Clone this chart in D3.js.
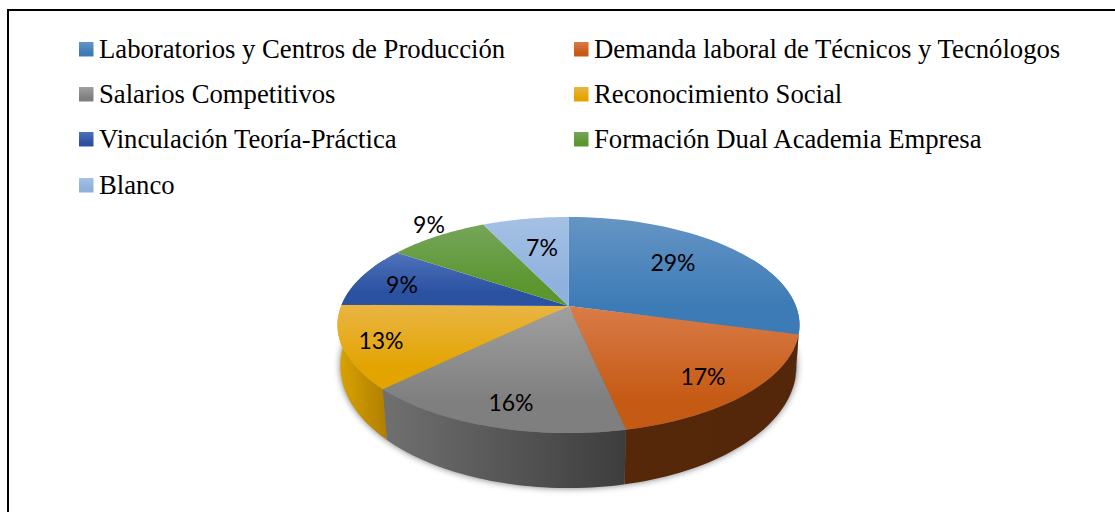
<!DOCTYPE html>
<html><head><meta charset="utf-8"><style>html,body{margin:0;padding:0;background:#fff}svg{display:block}</style>
<script src="https://cdnjs.cloudflare.com/ajax/libs/d3/7.8.5/d3.min.js"></script></head><body><svg id="c" width="1115" height="512"></svg>
<script>
const categories=["Laboratorios y Centros de Producción","Demanda laboral de Técnicos y Tecnólogos","Salarios Competitivos","Reconocimiento Social","Vinculación Teoría-Práctica","Formación Dual Academia Empresa","Blanco"];
const values=[29.2,17.45,16.05,12.5,9.25,8.4,7.15];
const labels=["29%","17%","16%","13%","9%","9%","7%"];
const topLight=["#6595c4","#d97c48","#a0a0a0","#e9b543","#4f72ba","#76a55a","#a5c1e5"];
const topDark=["#3d7bb6","#c55a14","#7f7f7f","#e3a400","#2a52a1","#5b962f","#8fb1dd"];
const wallLeft=["#3a6a96","#56280a","#707070","#dba300","#24467f","#4a7a28","#7a98bd"];
const wallRight=["#3a6a96","#54270a","#3d3d3d","#b07f00","#24467f","#4a7a28","#7a98bd"];
const labelPos=[[673,262],[703,376],[511,402],[381,340],[402,284],[429,224],[542,247]];
const legendCols=[79,574], legendRows=[49,94,139,185];

const svg=d3.select("#c");
const defs=svg.append("defs");
// perspective projection of the unit disc
const k=.176,sx=227.4,sy=104.7,cx=568.5,cy=306;
const proj=(a,z=0)=>{const X=Math.sin(a),Y=-Math.cos(a),w=1-k*Y;
  return [cx+(sx*X/w)*(1-z*(.01+.015*Math.max(Y,0))), cy+sy*Y/w+z*(40+15*Y)];};
const arcs=d3.pie().sort(null).value(d=>d)(values);
const samp=(a0,a1,z)=>d3.range(0,41).map(i=>proj(a0+(a1-a0)*i/40,z));
const line=d3.line();
const grad=(id,c1,c2,hor)=>{const g=defs.append("linearGradient").attr("id",id).attr("x1",0).attr("y1",0).attr("x2",hor?1:0).attr("y2",hor?0:1);
  g.append("stop").attr("offset",0).attr("stop-color",c1);
  if(!hor)g.append("stop").attr("offset",.75).attr("stop-color",c2);
  g.append("stop").attr("offset",1).attr("stop-color",c2);};
values.forEach((_,i)=>{grad("t"+i,topLight[i],topDark[i]);grad("w"+i,wallLeft[i],wallRight[i],true);});
const f=defs.append("filter").attr("id","sh").attr("x","-10%").attr("y","-10%").attr("width","120%").attr("height","130%");
f.append("feGaussianBlur").attr("stdDeviation",3.5);

svg.append("rect").attr("x",8).attr("y",10).attr("width",1120).attr("height",520).attr("fill","#fff").attr("stroke","#000").attr("stroke-width",2);

// shadow
const whole=samp(Math.PI/2-.3,Math.PI*1.5+.3,1);
svg.append("path").attr("d",line(whole)+"Z").attr("fill","#000").attr("fill-opacity",.55).attr("filter","url(#sh)");

// walls
const front=[Math.PI/2-.5,Math.PI*1.5+.5];
arcs.forEach((d,i)=>{const a0=Math.max(d.startAngle,front[0]),a1=Math.min(d.endAngle,front[1]);
  if(a1<=a0)return;
  svg.append("path").attr("d",line(samp(a0,a1,0).concat(samp(a0,a1,1).reverse()))+"Z").attr("fill",`url(#w${i})`);});
// top
arcs.forEach((d,i)=>{
  svg.append("path").attr("d",line([[cx,cy]].concat(samp(d.startAngle,d.endAngle,0)))+"Z").attr("fill",`url(#t${i})`);});
// pct labels
labels.forEach((t,i)=>svg.append("text").attr("x",labelPos[i][0]).attr("y",labelPos[i][1]).attr("text-anchor","middle").attr("font-family","Lato").attr("font-size",23).attr("dominant-baseline","central").attr("fill","#000").text(t));
// legend
categories.forEach((t,i)=>{const x=legendCols[i%2],y=i==6?legendRows[3]:legendRows[Math.floor(i/2)];
  svg.append("rect").attr("x",x).attr("y",y-7).attr("width",14.5).attr("height",14.5).attr("fill",`url(#t${i})`);
  svg.append("text").attr("x",x+20).attr("y",y+8.5).attr("font-family","Liberation Serif").attr("font-size",26.7).attr("fill","#000").text(t);});
</script></body></html>
